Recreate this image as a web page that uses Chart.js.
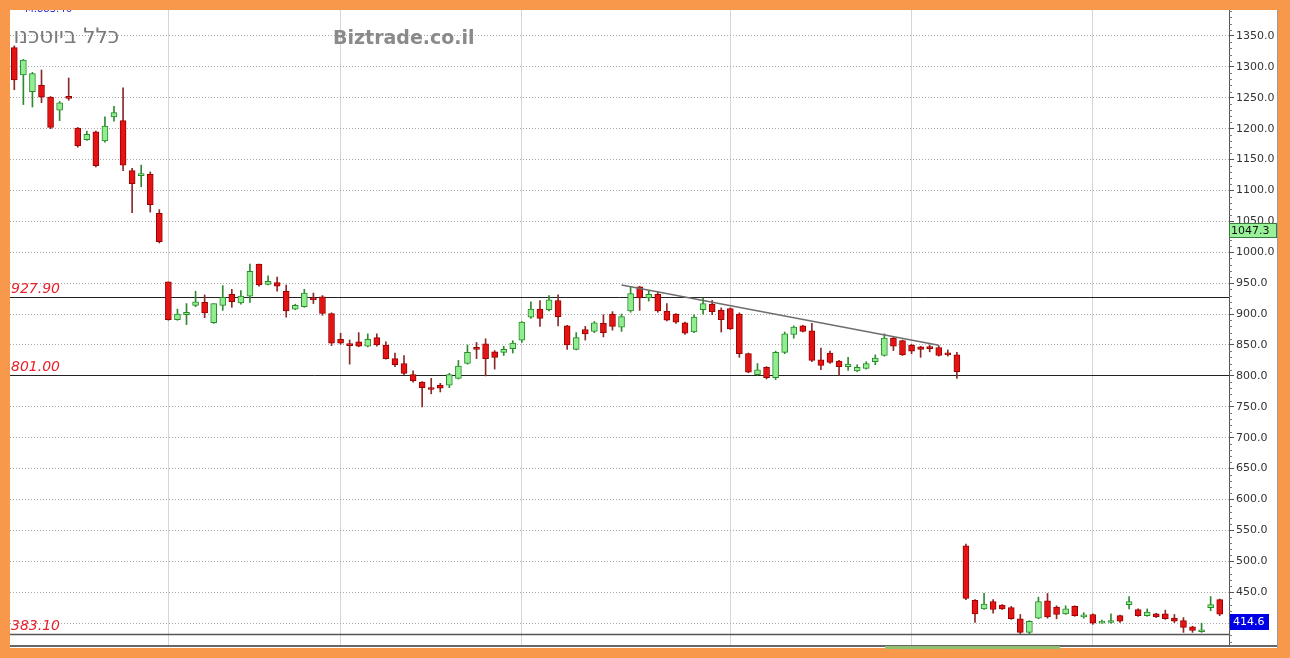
<!DOCTYPE html>
<html>
<head>
<meta charset="utf-8">
<script src="https://cdn.jsdelivr.net/npm/chart.js@4.4.1/dist/chart.umd.min.js"></script>
<style>
html, body { margin: 0; padding: 0; background: #f7984a; }
#frame { position: absolute; left: 10px; top: 10px; width: 1267px; height: 638px; background: #fff; border-right: 1px solid #9a9a9a; }
#scroll { position: absolute; left: 885px; top: 646px; width: 175px; height: 3px; background: #8fbf6f; }
</style>
</head>
<body>
<div id="frame"><canvas id="view-canvas" width="1267" height="638"></canvas></div>
<div id="scroll"></div>
<script>
// daily candles
var opens  = [1331,1287,1260,1270,1251,1230,1250,1201,1182,1195,1180,1219,1213,1132,1124,1126,1063,
              952,891,899,914,919,886,914,932,918,929,981,948,951,937,908,912,924,928,901,859,850,855,848,862,850,828,820,802,790,781,785,785,796,820,844,852,839,838,844,858,895,908,907,922,881,843,875,872,885,900,879,
              905,944,926,932,905,900,886,871,907,916,906,909,900,836,802,814,797,838,867,881,873,826,837,824,815,808,812,823,833,861,857,850,847,845,846,835,834,
              525,437,423,435,429,425,407,385,408,436,426,415,427,410,414,400,401,412,430,422,412,415,415,408,404,394,386,425,438];
var highs  = [1334,1312,1291,1295,1252,1244,1282,1202,1196,1196,1219,1236,1266,1136,1141,1130,1069,
              952,908,917,937,931,917,946,940,938,981,981,962,960,947,916,940,934,930,902,869,858,870,868,868,855,837,833,808,791,796,788,804,825,850,854,860,841,848,857,888,920,922,930,931,882,870,880,888,899,904,900,
              944,945,937,936,917,901,887,899,926,922,910,910,902,837,820,815,840,871,881,882,885,845,840,825,830,818,823,834,868,863,858,851,848,850,849,842,838,
              528,438,448,438,430,427,414,404,442,448,428,428,428,417,415,405,415,413,443,423,423,416,421,414,409,395,400,443,439];
var lows   = [1263,1239,1235,1242,1200,1213,1246,1170,1181,1138,1178,1212,1132,1064,1106,1065,1015,
              890,890,883,912,894,885,906,911,916,919,945,947,937,895,907,911,917,898,849,851,819,847,847,848,827,815,802,790,750,771,774,781,795,819,828,800,811,833,837,854,893,880,905,881,843,842,858,870,863,874,872,
              903,906,921,903,889,885,867,870,900,899,871,875,830,805,801,795,794,836,861,871,823,810,820,801,809,807,811,818,832,841,833,836,830,839,832,832,796,
              438,401,422,416,422,406,383,383,407,408,407,414,411,408,398,400,400,401,423,411,411,409,406,401,385,385,385,420,412];
var closes = [1279,1311,1289,1251,1202,1242,1249,1172,1191,1140,1204,1226,1141,1111,1125,1077,1017,
              891,900,903,920,902,917,927,920,929,969,947,953,945,905,914,934,923,901,853,853,849,848,859,850,828,818,804,792,781,778,780,802,816,838,843,828,830,843,853,887,908,893,923,896,850,862,868,886,870,880,896,
              933,926,932,905,890,887,869,895,917,904,891,876,836,806,810,797,838,868,879,872,825,817,822,815,819,814,820,829,861,848,834,840,843,844,833,834,807,
              440,415,431,422,423,407,385,403,435,410,414,423,412,411,400,401,404,403,435,412,418,410,407,403,393,388,387,430,414.6];

// month separators (candle index), y ticks, level lines, trend line
var monthStarts = [17, 36, 56, 79, 99, 119];
var yTicks = [400,450,500,550,600,650,700,750,800,850,900,950,1000,1050,1100,1150,1200,1250,1300,1350];
var levels = [927.90, 801.00, 383.10];
var levelLabels = ['927.90', '801.00', '383.10'];
var trendX = [67, 102];
var trendY = [947, 849.5];
var refPrice = 1047.3;
var lastPrice = 414.6;

var canvas = document.getElementById('view-canvas');

var upFill = '#90ee90', upLine = '#2a8a2a';
var dnFill = '#e41414', dnLine = '#9a0000';

var bodyData = [], wickData = [], bodyFill = [], bodyBorder = [], wickColor = [];
opens.forEach(function (o, i) {
    var up = closes[i] >= o;
    bodyData.push({ x: i, y: [o, closes[i]] });
    wickData.push({ x: i, y: [lows[i], highs[i]] });
    bodyFill.push(up ? upFill : dnFill);
    bodyBorder.push(up ? upLine : dnLine);
    wickColor.push(up ? '#2f8a2f' : '#8a2a2a');
});

var overlay = {
    id: 'overlay',
    beforeDatasetsDraw: function (chart) {
        var ctx = chart.ctx, a = chart.chartArea, y = chart.scales.y;
        ctx.save();
        // watermark texts
        ctx.fillStyle = '#2c2cd0';
        ctx.font = '10px "DejaVu Sans"';
        ctx.textBaseline = 'middle';
        ctx.fillText('M:883.46', 15, -1);
        ctx.save();
        ctx.beginPath();
        ctx.rect(a.left + 2, 0, 300, 80);
        ctx.clip();
        ctx.fillStyle = '#7b7b7b';
        ctx.font = '21.5px "DejaVu Sans"';
        ctx.textAlign = 'right';
        ctx.textBaseline = 'alphabetic';
        ctx.fillText('כלל ביוטכנו', 109, 33);
        ctx.restore();
        ctx.fillStyle = '#8a8a8a';
        ctx.font = 'bold 19px "DejaVu Sans"';
        ctx.textBaseline = 'alphabetic';
        ctx.fillText('Biztrade.co.il', 323, 34);
        // support / resistance lines
        levels.forEach(function (v, k) {
            var py = Math.round(y.getPixelForValue(v)) + 0.5;
            ctx.strokeStyle = k === 2 ? '#555' : '#222';
            ctx.lineWidth = k === 2 ? 1.5 : 1;
            ctx.beginPath();
            ctx.moveTo(a.left, py);
            ctx.lineTo(a.right, py);
            ctx.stroke();
            ctx.fillStyle = '#e8202a';
            ctx.font = 'italic 14px "DejaVu Sans"';
            ctx.textAlign = 'left';
            ctx.fillText(levelLabels[k], a.left + 1, py - 5);
        });
        ctx.restore();
    },
    afterDatasetsDraw: function (chart) {
        var ctx = chart.ctx, x = chart.scales.x, y = chart.scales.y;
        ctx.save();
        ctx.strokeStyle = '#6e6e6e';
        ctx.lineWidth = 1.5;
        ctx.beginPath();
        ctx.moveTo(x.getPixelForValue(trendX[0]), y.getPixelForValue(trendY[0]));
        ctx.lineTo(x.getPixelForValue(trendX[1]), y.getPixelForValue(trendY[1]));
        ctx.stroke();
        ctx.restore();
    },
    afterDraw: function (chart) {
        var ctx = chart.ctx, a = chart.chartArea, y = chart.scales.y;
        ctx.save();
        // minor ticks
        ctx.strokeStyle = '#777';
        ctx.lineWidth = 1;
        for (var v = 370; v < 1392; v += 10) {
            if (v % 50 === 0) continue;
            var py = Math.round(y.getPixelForValue(v)) + 0.5;
            ctx.beginPath();
            ctx.moveTo(a.right, py);
            ctx.lineTo(a.right + 3, py);
            ctx.stroke();
        }
        // bottom line
        ctx.strokeStyle = '#666';
        ctx.lineWidth = 2;
        ctx.beginPath();
        ctx.moveTo(0, a.bottom + 1);
        ctx.lineTo(chart.width, a.bottom + 1);
        ctx.stroke();
        ctx.font = '11px "DejaVu Sans"';
        ctx.textBaseline = 'middle';
        ctx.textAlign = 'left';
        // reference price box
        var ry = Math.round(y.getPixelForValue(refPrice));
        ctx.fillStyle = '#98f098';
        ctx.fillRect(a.right, ry, 48, 14);
        ctx.strokeStyle = '#3a7a3a';
        ctx.lineWidth = 1;
        ctx.strokeRect(a.right + 0.5, ry + 0.5, 47, 14);
        ctx.fillStyle = '#111';
        ctx.fillText(refPrice.toFixed(1), a.right + 2, ry + 8);
        // last price box
        var ly = Math.round(y.getPixelForValue(lastPrice));
        ctx.fillStyle = '#0000e6';
        ctx.fillRect(a.right + 1, ly, 39, 16);
        ctx.fillStyle = '#fff';
        ctx.fillText(lastPrice.toFixed(1), a.right + 4, ly + 8.5);
        ctx.restore();
    }
};

var myChart = new Chart(canvas, {
    type: 'bar',
    data: {
        datasets: [{
            data: bodyData,
            backgroundColor: bodyFill,
            borderColor: bodyBorder,
            borderWidth: 1,
            borderSkipped: false,
            barThickness: 6,
            minBarLength: 2,
            grouped: false
        }, {
            data: wickData,
            backgroundColor: wickColor,
            borderWidth: 0,
            barThickness: 1,
            grouped: false
        }]
    },
    options: {
        responsive: false,
        animation: false,
        layout: { autoPadding: false, padding: { left: 0, right: 0, top: 0, bottom: 3 } },
        plugins: { legend: { display: false }, tooltip: { enabled: false } },
        scales: {
            x: {
                type: 'linear',
                min: -0.475,
                max: 134.025,
                offset: false,
                ticks: { display: false },
                grid: { offset: false, color: '#d6d6d6', lineWidth: 1, drawTicks: false },
                border: { display: false },
                afterBuildTicks: function (scale) {
                    scale.ticks = monthStarts.map(function (v) { return { value: v }; });
                }
            },
            y: {
                position: 'right',
                min: 364.6,
                max: 1392,
                beginAtZero: false,
                grid: { color: '#a8a8a8', lineWidth: 1, tickLength: 5, tickColor: '#555', tickBorderDash: [] },
                border: { display: true, color: '#555', dash: [1, 2] },
                ticks: {
                    color: '#333',
                    padding: 2,
                    font: { family: 'DejaVu Sans', size: 11 },
                    callback: function (v) { return Number(v).toFixed(1); }
                },
                afterBuildTicks: function (scale) {
                    scale.ticks = yTicks.map(function (v) { return { value: v }; });
                },
                afterFit: function (scale) {
                    scale.width = 48;
                    // labels never sit at the very top/bottom, no need for the extra half-label padding
                    scale.paddingTop = 0;
                    scale.paddingBottom = 0;
                }
            }
        }
    },
    plugins: [overlay]
});
</script>
</body>
</html>
